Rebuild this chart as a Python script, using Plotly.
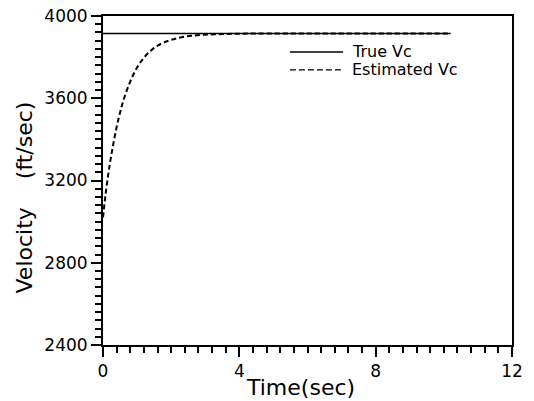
import plotly.graph_objects as go

# Data
true_t = [0.0, 10.2]
true_v = [3915, 3915]

est_t = [0.0, 0.1, 0.2, 0.3, 0.4, 0.5, 0.6, 0.8, 1.0, 1.2, 1.5, 1.8, 2.2, 2.6, 3.0, 3.5, 4.0, 6.0, 10.2]
est_v = [3020, 3165, 3280, 3375, 3460, 3530, 3590, 3682, 3750, 3797, 3845, 3872, 3893, 3904, 3909, 3912, 3914, 3915, 3915]

x_ticks = [0, 4, 8, 12]
y_ticks = [2400, 2800, 3200, 3600, 4000]

FONT = "DejaVu Sans"

fig = go.Figure()
fig.add_trace(go.Scatter(x=true_t, y=true_v, mode="lines", name="True Vc",
                         line=dict(color="black", width=1.5), showlegend=False))
fig.add_trace(go.Scatter(x=est_t, y=est_v, mode="lines", name="Estimated Vc", line_shape="spline",
                         line=dict(color="black", width=2, dash="5px,3px"), showlegend=False))

# manual legend
legend_items = [("True Vc", "solid", 1.5, 0.8906), ("Estimated Vc", "6px,3px", 1.3, 0.836)]
for label, dash, w, yp in legend_items:
    fig.add_shape(type="line", xref="paper", yref="paper", x0=0.457, x1=0.587, y0=yp, y1=yp,
                  line=dict(color="black", width=w, dash=dash))
    fig.add_annotation(text=label, xref="paper", yref="paper", x=0.604, y=yp, xanchor="left",
                       yanchor="middle", showarrow=False, font=dict(family=FONT, size=16, color="black"))

# axis titles
fig.add_annotation(text="Time(sec)", xref="paper", yref="paper", x=0.484, y=-0.128,
                   xanchor="center", yanchor="middle", showarrow=False,
                   font=dict(family=FONT, size=22, color="black"))
fig.add_annotation(text="Velocity\u00a0\u00a0\u00a0\u00a0(ft/sec)", xref="paper", yref="paper", x=-0.191, y=0.448,
                   xanchor="center", yanchor="middle", textangle=-90, showarrow=False,
                   font=dict(family=FONT, size=22, color="black"))

fig.update_layout(
    width=534, height=401,
    margin=dict(l=103, r=22, t=16, b=56),
    paper_bgcolor="white", plot_bgcolor="white",
    font=dict(family=FONT, color="black"),
    showlegend=False,
)
fig.update_xaxes(range=[0, 12], tickvals=x_ticks, ticktext=[str(v) for v in x_ticks], automargin=False,
                 showgrid=False, zeroline=False, showline=True, linecolor="black", linewidth=2,
                 mirror=True, ticks="outside", ticklen=10, tickwidth=1.5, tickcolor="black",
                 tickfont=dict(family=FONT, size=17), ticklabeloverflow="allow",
                 minor=dict(dtick=0.4, tick0=0, ticks="outside", ticklen=6, tickwidth=1.5, tickcolor="black", showgrid=False))
fig.update_yaxes(range=[2400, 4000], tickvals=y_ticks, ticktext=[str(v) for v in y_ticks], automargin=False,
                 showgrid=False, zeroline=False, showline=True, linecolor="black", linewidth=2,
                 mirror=True, ticks="outside", ticklen=10, tickwidth=1.5, tickcolor="black",
                 tickfont=dict(family=FONT, size=17), ticklabeloverflow="allow",
                 minor=dict(dtick=40, tick0=2400, ticks="outside", ticklen=6, tickwidth=1.5, tickcolor="black", showgrid=False))

# remove the browser's default 8px body margin so the figure fills the window
fig.write_html("out.html", config={"displayModeBar": False},
               post_script="document.body.style.margin='0';")
